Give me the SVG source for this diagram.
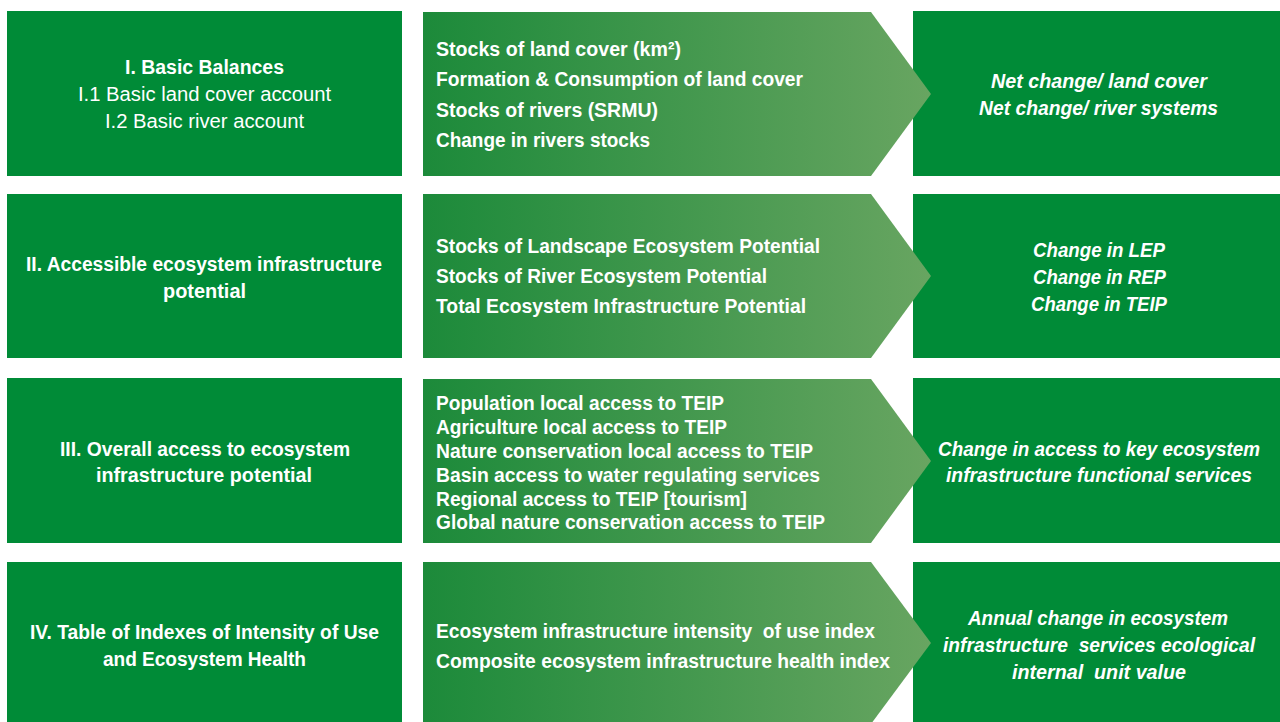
<svg xmlns="http://www.w3.org/2000/svg" width="1280" height="722" viewBox="0 0 1280 722">
<style>
.box{fill:#008b37}
.arr{fill:url(#g)}
.t{fill:#ffffff;font-family:"Liberation Sans",Arial,sans-serif;font-size:20px}
.b{font-weight:bold}
.i{font-style:italic;font-weight:bold}
</style>
<defs>
<linearGradient id="g" gradientUnits="userSpaceOnUse" x1="423" y1="0" x2="931" y2="0">
<stop offset="0" stop-color="#1c8a3a"/>
<stop offset="1" stop-color="#68a561"/>
</linearGradient>
</defs>
<rect width="1280" height="722" fill="#ffffff"/>
<g id="connectors"/>
<!-- Row 1 -->
<g id="left1">
<rect class="box" x="7" y="11" width="395" height="165"/>
<text class="t b" x="125" y="74" textLength="159" lengthAdjust="spacingAndGlyphs">I. Basic Balances</text>
<text class="t" x="78" y="101" textLength="253" lengthAdjust="spacingAndGlyphs">I.1 Basic land cover account</text>
<text class="t" x="105" y="128" textLength="199" lengthAdjust="spacingAndGlyphs">I.2 Basic river account</text>
</g>
<g id="right1">
<rect class="box" x="913" y="11" width="367" height="165"/>
<text class="t i" x="991" y="88" textLength="216" lengthAdjust="spacingAndGlyphs">Net change/ land cover</text>
<text class="t i" x="979" y="115" textLength="239" lengthAdjust="spacingAndGlyphs">Net change/ river systems</text>
</g>
<g id="mid1">
<path class="arr" d="M423,12 L871,12 L931,94 L871,176 L423,176 Z"/>
<text class="t b" x="436" y="56" textLength="245" lengthAdjust="spacingAndGlyphs">Stocks of land cover (km²)</text>
<text class="t b" x="436" y="86" textLength="367" lengthAdjust="spacingAndGlyphs">Formation &amp; Consumption of land cover</text>
<text class="t b" x="436" y="117" textLength="222" lengthAdjust="spacingAndGlyphs">Stocks of rivers (SRMU)</text>
<text class="t b" x="436" y="147" textLength="214" lengthAdjust="spacingAndGlyphs">Change in rivers stocks</text>
</g>
<!-- Row 2 -->
<g id="left2">
<rect class="box" x="7" y="194" width="395" height="164"/>
<text class="t b" x="26" y="271" textLength="356" lengthAdjust="spacingAndGlyphs">II. Accessible ecosystem infrastructure</text>
<text class="t b" x="163" y="298" textLength="83" lengthAdjust="spacingAndGlyphs">potential</text>
</g>
<g id="right2">
<rect class="box" x="913" y="194" width="367" height="164"/>
<text class="t i" x="1033" y="257" textLength="132" lengthAdjust="spacingAndGlyphs">Change in LEP</text>
<text class="t i" x="1033" y="284" textLength="133" lengthAdjust="spacingAndGlyphs">Change in REP</text>
<text class="t i" x="1031" y="311" textLength="136" lengthAdjust="spacingAndGlyphs">Change in TEIP</text>
</g>
<g id="mid2">
<path class="arr" d="M423,194 L871,194 L931,276 L871,358 L423,358 Z"/>
<text class="t b" x="436" y="253" textLength="384" lengthAdjust="spacingAndGlyphs">Stocks of Landscape Ecosystem Potential</text>
<text class="t b" x="436" y="283" textLength="331" lengthAdjust="spacingAndGlyphs">Stocks of River Ecosystem Potential</text>
<text class="t b" x="436" y="313" textLength="370" lengthAdjust="spacingAndGlyphs">Total Ecosystem Infrastructure Potential</text>
</g>
<!-- Row 3 -->
<g id="left3">
<rect class="box" x="7" y="378" width="395" height="165"/>
<text class="t b" x="60" y="456" textLength="290" lengthAdjust="spacingAndGlyphs">III. Overall access to ecosystem</text>
<text class="t b" x="96" y="482" textLength="216" lengthAdjust="spacingAndGlyphs">infrastructure potential</text>
</g>
<g id="right3">
<rect class="box" x="913" y="378" width="367" height="165"/>
<text class="t i" x="938" y="456" textLength="322" lengthAdjust="spacingAndGlyphs">Change in access to key ecosystem</text>
<text class="t i" x="946" y="482" textLength="306" lengthAdjust="spacingAndGlyphs">infrastructure functional services</text>
</g>
<g id="mid3">
<path class="arr" d="M423,379 L871,379 L931,461 L871,543 L423,543 Z"/>
<text class="t b" x="436" y="410" textLength="288" lengthAdjust="spacingAndGlyphs">Population local access to TEIP</text>
<text class="t b" x="436" y="434" textLength="291" lengthAdjust="spacingAndGlyphs">Agriculture local access to TEIP</text>
<text class="t b" x="436" y="458" textLength="377" lengthAdjust="spacingAndGlyphs">Nature conservation local access to TEIP</text>
<text class="t b" x="436" y="482" textLength="384" lengthAdjust="spacingAndGlyphs">Basin access to water regulating services</text>
<text class="t b" x="436" y="506" textLength="311" lengthAdjust="spacingAndGlyphs">Regional access to TEIP [tourism]</text>
<text class="t b" x="436" y="529" textLength="389" lengthAdjust="spacingAndGlyphs">Global nature conservation access to TEIP</text>
</g>
<!-- Row 4 -->
<g id="left4">
<rect class="box" x="7" y="562" width="395" height="160"/>
<text class="t b" x="30" y="639" textLength="349" lengthAdjust="spacingAndGlyphs">IV. Table of Indexes of Intensity of Use</text>
<text class="t b" x="103" y="666" textLength="203" lengthAdjust="spacingAndGlyphs">and Ecosystem Health</text>
</g>
<g id="right4">
<rect class="box" x="913" y="562" width="367" height="160"/>
<text class="t i" x="968" y="625" textLength="260" lengthAdjust="spacingAndGlyphs">Annual change in ecosystem</text>
<text class="t i" x="943" y="652" textLength="312" lengthAdjust="spacingAndGlyphs" xml:space="preserve">infrastructure  services ecological</text>
<text class="t i" x="1012" y="679" textLength="174" lengthAdjust="spacingAndGlyphs" xml:space="preserve">internal  unit value</text>
</g>
<g id="mid4">
<path class="arr" d="M423,562 L871,562 L931,643 L871,724 L423,724 Z"/>
<text class="t b" x="436" y="638" textLength="439" lengthAdjust="spacingAndGlyphs" xml:space="preserve">Ecosystem infrastructure intensity  of use index</text>
<text class="t b" x="436" y="668" textLength="454" lengthAdjust="spacingAndGlyphs">Composite ecosystem infrastructure health index</text>
</g>
</svg>
